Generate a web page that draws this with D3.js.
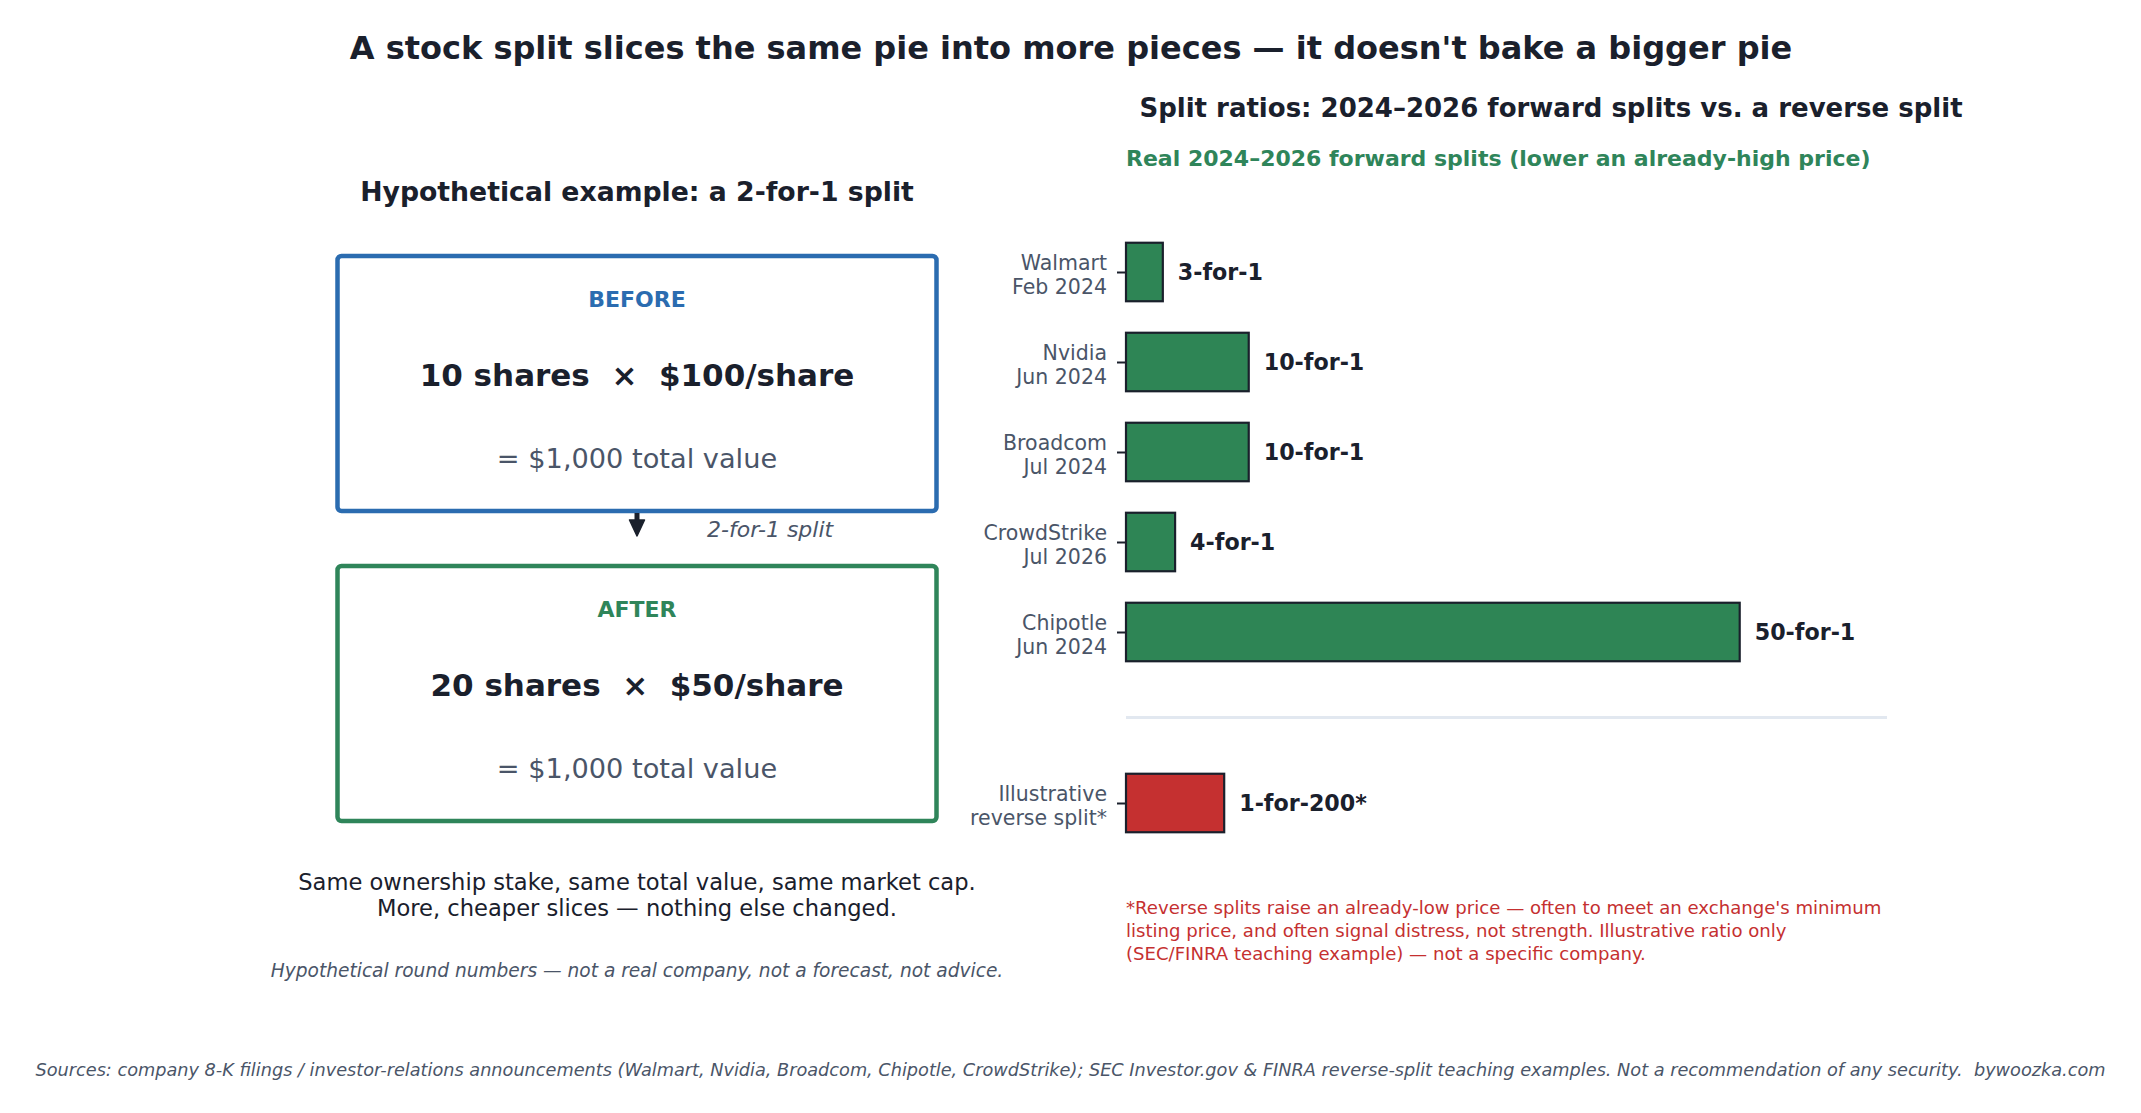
<!DOCTYPE html>
<html>
<head>
<meta charset="utf-8">
<script src="https://cdn.jsdelivr.net/npm/d3@7"></script>
<style>
  body { margin: 0; background: #fff; }
  svg text { font-family: "DejaVu Sans", sans-serif; }
</style>
</head>
<body>
<div id="main"></div>
<script>
const W = 2141, H = 1113;

// hypothetical example (left)
const stages = ["BEFORE", "AFTER"];
const shareCounts = [10, 20];
const sharePrices = [100, 50];
const stageColors = ["#2b6cb0", "#2f855a"];

// real forward splits (right)
const splitCompanies = ["Walmart", "Nvidia", "Broadcom", "CrowdStrike", "Chipotle"];
const splitDates = ["Feb 2024", "Jun 2024", "Jul 2024", "Jul 2026", "Jun 2024"];
const splitRatios = [3, 10, 10, 4, 50];
const splitLabels = ["3-for-1", "10-for-1", "10-for-1", "4-for-1", "50-for-1"];

// illustrative reverse split, drawn at a fixed display length
const reverseLines = ["Illustrative", "reverse split*"];
const reverseValue = 8;
const reverseLabel = "1-for-200*";

const footnoteLines = [
    "*Reverse splits raise an already-low price \u2014 often to meet an exchange's minimum",
    "listing price, and often signal distress, not strength. Illustrative ratio only",
    "(SEC/FINRA teaching example) \u2014 not a specific company."
];

const DARK = "#1a202c", GREY = "#4a5568", RED = "#c53030";

const svg = d3.select("#main").append("svg")
    .attr("width", W)
    .attr("height", H);
svg.append("rect").attr("width", W).attr("height", H).attr("fill", "#fff");

svg.append("text")
   .attr("x", 1071).attr("y", 48)
   .attr("text-anchor", "middle").attr("dominant-baseline", "central")
   .attr("font-size", 32).attr("font-weight", "bold").attr("fill", DARK)
   .text("A stock split slices the same pie into more pieces \u2014 it doesn't bake a bigger pie");

/* left panel */
const cx = 637;
svg.append("text")
   .attr("x", cx).attr("y", 191)
   .attr("text-anchor", "middle").attr("dominant-baseline", "central")
   .attr("font-size", 26.7).attr("font-weight", "bold").attr("fill", DARK)
   .text("Hypothetical example: a 2-for-1 split");

const boxTops = [256, 566];
const boxW = 599, boxH = 255;
stages.forEach(function(s, i){
    let g = svg.append("g").attr("transform", `translate(${cx - boxW/2},${boxTops[i]})`);
    g.append("rect")
     .attr("width", boxW).attr("height", boxH)
     .attr("rx", 4).attr("ry", 4)
     .attr("fill", "none").attr("stroke", stageColors[i]).attr("stroke-width", 4.5);
    g.append("text")
     .attr("x", boxW/2).attr("y", 43)
     .attr("text-anchor", "middle").attr("dominant-baseline", "central")
     .attr("font-size", 22).attr("font-weight", "bold").attr("fill", stageColors[i])
     .text(s);
    g.append("text")
     .attr("x", boxW/2).attr("y", 119)
     .attr("text-anchor", "middle").attr("dominant-baseline", "central")
     .attr("font-size", 31).attr("font-weight", "bold").attr("fill", DARK)
     .attr("xml:space", "preserve")
     .text(`${shareCounts[i]} shares  \u00d7  $${sharePrices[i]}/share`);
    g.append("text")
     .attr("x", boxW/2).attr("y", 202)
     .attr("text-anchor", "middle").attr("dominant-baseline", "central")
     .attr("font-size", 27.2).attr("fill", GREY)
     .text(`= $${d3.format(",")(shareCounts[i]*sharePrices[i])} total value`);
});

// arrow between the boxes
svg.append("line")
   .attr("x1", cx).attr("x2", cx).attr("y1", 513).attr("y2", 524)
   .attr("stroke", DARK).attr("stroke-width", 5);
svg.append("path")
   .attr("d", `M${cx-7.5},${520} L${cx+7.5},${520} L${cx},${536} Z`)
   .attr("fill", DARK).attr("stroke", DARK).attr("stroke-width", 1.5)
   .attr("stroke-linejoin", "round");
svg.append("text")
   .attr("x", 707).attr("y", 529)
   .attr("dominant-baseline", "central")
   .attr("font-size", 22).attr("font-style", "italic").attr("fill", GREY)
   .text("2-for-1 split");

svg.append("text")
   .attr("x", cx).attr("y", 882)
   .attr("text-anchor", "middle").attr("dominant-baseline", "central")
   .attr("font-size", 22.6).attr("fill", DARK)
   .text("Same ownership stake, same total value, same market cap.");
svg.append("text")
   .attr("x", cx).attr("y", 908)
   .attr("text-anchor", "middle").attr("dominant-baseline", "central")
   .attr("font-size", 22.6).attr("fill", DARK)
   .text("More, cheaper slices \u2014 nothing else changed.");
svg.append("text")
   .attr("x", cx).attr("y", 970)
   .attr("text-anchor", "middle").attr("dominant-baseline", "central")
   .attr("font-size", 18.6).attr("font-style", "italic").attr("fill", GREY)
   .text("Hypothetical round numbers \u2014 not a real company, not a forecast, not advice.");

/* right panel: split ratios */
svg.append("text")
   .attr("x", 1551).attr("y", 108)
   .attr("text-anchor", "middle").attr("dominant-baseline", "central")
   .attr("font-size", 26).attr("font-weight", "bold").attr("fill", DARK)
   .text("Split ratios: 2024\u20132026 forward splits vs. a reverse split");
svg.append("text")
   .attr("x", 1126).attr("y", 158)
   .attr("dominant-baseline", "central")
   .attr("font-size", 22).attr("font-weight", "bold").attr("fill", "#2f855a")
   .text("Real 2024\u20132026 forward splits (lower an already-high price)");

const x = d3.scaleLinear().domain([0, 62]).range([1126, 1887]);
const y = d3.scaleLinear().domain([0, 1]).range([272, 362]);
const barH = 0.65 * (y(1) - y(0));
const reversePos = 5.9, sepPos = 4.95;

const rows = splitCompanies.map((c, i) => ({
    lines: [c, splitDates[i]], value: splitRatios[i], label: splitLabels[i],
    pos: i, fill: "#2e8555"
}));
rows.push({lines: reverseLines, value: reverseValue, label: reverseLabel, pos: reversePos, fill: "#c53030"});

const yAxis = d3.axisLeft(y)
    .tickValues(rows.map(d => d.pos))
    .tickFormat("")
    .tickSize(9)
    .tickPadding(10);
const axisG = svg.append("g")
    .attr("transform", `translate(${x(0)},0)`)
    .call(yAxis);
axisG.select(".domain").remove();
axisG.selectAll(".tick line").attr("stroke", DARK).attr("stroke-width", 2);
axisG.selectAll(".tick text")
     .attr("font-size", 20.5).attr("fill", GREY)
     .attr("font-family", "DejaVu Sans, sans-serif")
     .each(function(p){
         let r = rows.find(d => d.pos == p);
         let t = d3.select(this).attr("dy", null);
         t.append("tspan").attr("x", -19).attr("dy", "-0.1em").text(r.lines[0]);
         t.append("tspan").attr("x", -19).attr("dy", "1.17em").text(r.lines[1]);
     });

svg.append("line")
   .attr("x1", x(0)).attr("x2", x(62))
   .attr("y1", y(sepPos)).attr("y2", y(sepPos))
   .attr("stroke", "#e2e8f0").attr("stroke-width", 3);

svg.append("g").selectAll("rect")
   .data(rows).enter()
   .append("rect")
   .attr("x", x(0))
   .attr("y", d => y(d.pos) - barH/2)
   .attr("width", d => x(d.value) - x(0))
   .attr("height", barH)
   .attr("fill", d => d.fill)
   .attr("stroke", DARK).attr("stroke-width", 2.2);

svg.append("g").selectAll("text")
   .data(rows).enter()
   .append("text")
   .attr("x", d => x(d.value) + 15)
   .attr("y", d => y(d.pos))
   .attr("dominant-baseline", "central")
   .attr("font-size", 22.2).attr("font-weight", "bold").attr("fill", DARK)
   .text(d => d.label);

svg.append("g").selectAll("text")
   .data(footnoteLines).enter()
   .append("text")
   .attr("x", 1126)
   .attr("y", (d, i) => 907 + i*23)
   .attr("dominant-baseline", "central")
   .attr("font-size", 18.1).attr("fill", RED)
   .text(d => d);

svg.append("text")
   .attr("x", W/2).attr("y", 1070)
   .attr("text-anchor", "middle").attr("dominant-baseline", "central")
   .attr("font-size", 17.7).attr("font-style", "italic").attr("fill", GREY)
   .attr("xml:space", "preserve")
   .text("Sources: company 8-K filings / investor-relations announcements (Walmart, Nvidia, Broadcom, Chipotle, CrowdStrike); SEC Investor.gov & FINRA reverse-split teaching examples. Not a recommendation of any security.  bywoozka.com");
</script>
</body>
</html>
